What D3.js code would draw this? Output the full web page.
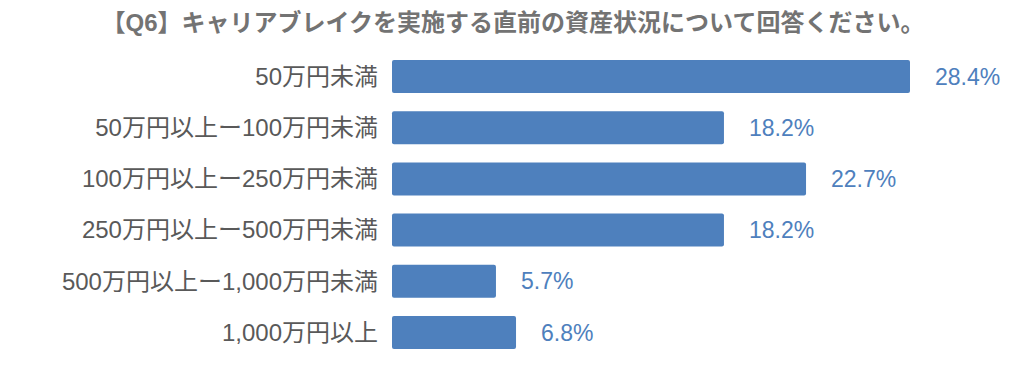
<!DOCTYPE html>
<html>
<head>
<meta charset="utf-8">
<script src="https://cdn.jsdelivr.net/npm/d3@7"></script>
<style>
  body { margin: 0; background: #fff; }
  text { font-family: "Liberation Sans", "Noto Sans CJK JP", sans-serif; }
</style>
</head>
<body>
<div id="chart"></div>
<script>
const title = "【Q6】キャリアブレイクを実施する直前の資産状況について回答ください。";
const categories = [
  "50万円未満",
  "50万円以上ー100万円未満",
  "100万円以上ー250万円未満",
  "250万円以上ー500万円未満",
  "500万円以上ー1,000万円未満",
  "1,000万円以上"
];
const values = [28.4, 18.2, 22.7, 18.2, 5.7, 6.8];

const width = 1024, height = 369;
const barColor = "#4e80bd";

const svg = d3.select("#chart").append("svg")
  .attr("width", width)
  .attr("height", height);

// title
svg.append("text")
  .attr("x", 513)
  .attr("y", 31)
  .attr("text-anchor", "middle")
  .attr("font-size", 24)
  .attr("font-weight", "bold")
  .attr("fill", "#737373")
  .text(title);

const x = d3.scaleLinear().domain([0, 28.4]).range([392, 910]);
const y = d3.scaleBand().domain(categories).range([50.9, 358.1])
  .paddingInner(0.355).paddingOuter(0.178);

const rows = svg.selectAll(".row")
  .data(categories.map((c, i) => ({ cat: c, val: values[i] })))
  .join("g")
  .attr("class", "row");

rows.append("rect")
  .attr("x", x(0))
  .attr("y", d => y(d.cat))
  .attr("width", d => x(d.val) - x(0))
  .attr("height", y.bandwidth())
  .attr("rx", 2)
  .attr("fill", barColor);

// category labels
rows.append("text")
  .attr("x", 378)
  .attr("y", d => y(d.cat) + y.bandwidth() / 2)
  .attr("dy", "0.35em")
  .attr("text-anchor", "end")
  .attr("font-size", 24)
  .attr("fill", "#595959")
  .text(d => d.cat);

// value labels
rows.append("text")
  .attr("x", d => x(d.val) + 25)
  .attr("y", d => y(d.cat) + y.bandwidth() / 2)
  .attr("dy", "0.35em")
  .attr("font-size", 23)
  .attr("fill", barColor)
  .text(d => d.val.toFixed(1) + "%");
</script>
</body>
</html>
